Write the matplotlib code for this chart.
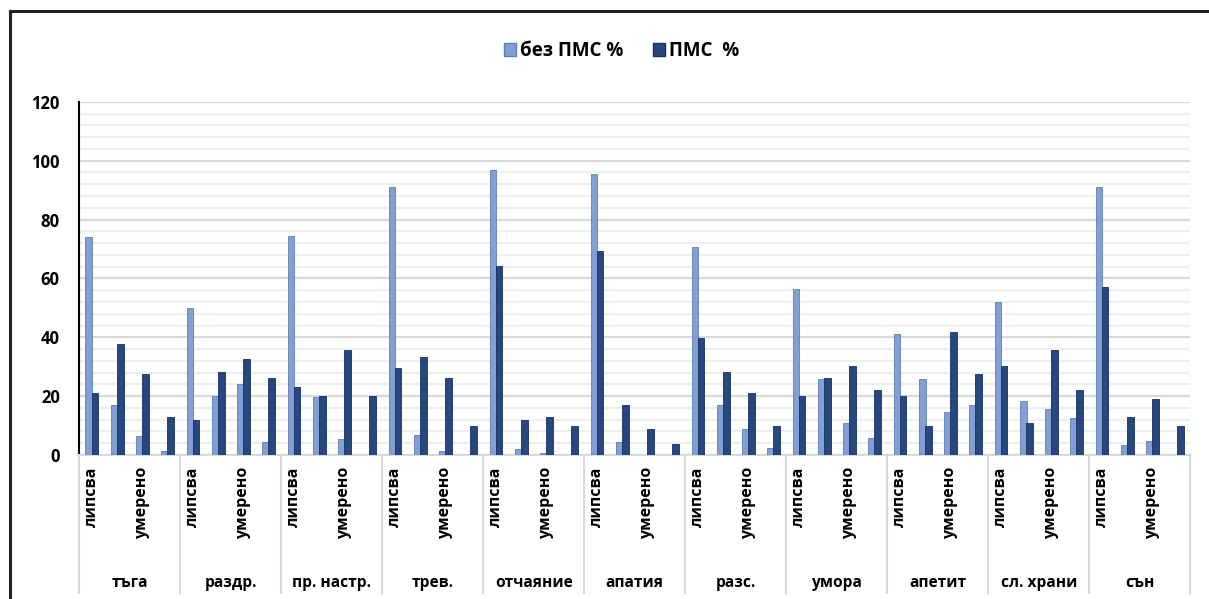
import numpy as np
import matplotlib.pyplot as plt
from matplotlib.patches import Patch
from matplotlib.lines import Line2D
import matplotlib.transforms as mtransforms

plt.rcParams['font.family'] = ['Open Sans', 'DejaVu Sans']

# ---- data ----
groups = ["тъга", "раздр.", "пр. настр.", "трев.", "отчаяние", "апатия",
          "разс.", "умора", "апетит", "сл. храни", "сън"]
sub_labels = ["липсва", "", "умерено", ""]

no_pms = [74.1, 17.1, 6.3, 1.5,
          50.1, 20.0, 24.2, 4.5,
          74.5, 19.6, 5.4, 0.0,
          91.1, 6.7, 1.5, 0.0,
          96.9, 1.9, 0.7, 0.0,
          95.4, 4.5, 0.0, 0.0,
          70.6, 17.0, 8.8, 2.5,
          56.4, 25.7, 10.8, 5.9,
          41.2, 25.7, 14.7, 17.0,
          52.1, 18.5, 15.5, 12.6,
          91.1, 3.3, 4.9, 0.0]
pms = [21.2, 37.6, 27.4, 12.9,
       11.8, 28.3, 32.5, 26.2,
       23.2, 20.2, 35.6, 20.2,
       29.4, 33.4, 26.3, 9.9,
       64.3, 11.8, 12.9, 9.9,
       69.4, 17.0, 8.8, 3.7,
       39.8, 28.3, 21.2, 9.9,
       20.2, 26.3, 30.4, 22.1,
       20.2, 9.9, 41.7, 27.4,
       30.4, 10.8, 35.6, 22.1,
       57.1, 12.9, 19.1, 9.9]

LIGHT = '#829FD3'
DARK = '#264780'

fig = plt.figure(figsize=(12.09, 5.99), dpi=100)
ax = fig.add_axes([0.0656, 0.2404, 0.919, 0.5896])

n_sub = len(sub_labels)
x = np.arange(len(groups) * n_sub)
w = 0.27
ax.bar(x - 0.12, no_pms, w, color=LIGHT, edgecolor='#5F7DB8', linewidth=0.6, zorder=3)
ax.bar(x + 0.12, pms, w, color=DARK, edgecolor='#18305F', linewidth=0.6, zorder=3)

ax.set_xlim(-0.5, len(x) - 0.5)
ax.set_ylim(0, 120)
ax.set_yticks(np.arange(0, 121, 20))
ax.set_yticks(np.arange(0, 121, 4), minor=True)
ax.yaxis.grid(True, which='major', color='#D9D9D9', linewidth=1.6, zorder=0)
ax.yaxis.grid(True, which='minor', color='#EFEFEF', linewidth=1.6, zorder=0)
ax.set_axisbelow(True)
ax.tick_params(axis='y', which='both', length=0, pad=14)
for lab in ax.get_yticklabels():
    lab.set_fontweight('bold')
    lab.set_fontsize(12)
ax.set_xticks([])
for s in ['top', 'right']:
    ax.spines[s].set_visible(False)
ax.spines['left'].set_color('black')
ax.spines['left'].set_linewidth(1.5)
ax.spines['bottom'].set_color('#D9D9D9')
ax.spines['bottom'].set_linewidth(1.5)

# multi-level category axis
trans = mtransforms.blended_transform_factory(ax.transData, ax.transAxes)
for i, lab in enumerate(sub_labels * len(groups)):
    if lab:
        ax.text(i, -0.033, lab, rotation=90, ha='center', va='top',
                fontsize=11.5, fontweight='bold', transform=trans)
for g, name in enumerate(groups):
    xc = g * n_sub + (n_sub - 1) / 2
    ax.text(xc, -0.363, name, ha='center', va='center',
            fontsize=11.2, fontweight='bold', transform=trans)
for g in range(len(groups) + 1):
    xb = g * n_sub - 0.5
    ax.add_line(Line2D([xb, xb], [0, -0.39], transform=trans, color='#D9D9D9',
                       linewidth=1.5, clip_on=False))

# legend
handles = [Patch(facecolor=LIGHT, edgecolor='#5F7DB8', label='без ПМС %'),
           Patch(facecolor=DARK, edgecolor='#18305F', label='ПМС  %')]
fig.legend(handles=handles, loc='center', bbox_to_anchor=(0.514, 0.915), ncol=2,
           frameon=False, prop={'weight': 'bold', 'size': 13.5},
           handlelength=0.65, handleheight=0.65, handletextpad=0.2, columnspacing=1.6)

# outer chart frame (left and top edges visible)
fig.add_artist(Line2D([0.0083, 0.0083], [0, 0.982], transform=fig.transFigure,
                      color='#222222', linewidth=2.2))
fig.add_artist(Line2D([0.0083, 1.0], [0.982, 0.982], transform=fig.transFigure,
                      color='#222222', linewidth=2.2))

fig.savefig('out.png', dpi=100)
